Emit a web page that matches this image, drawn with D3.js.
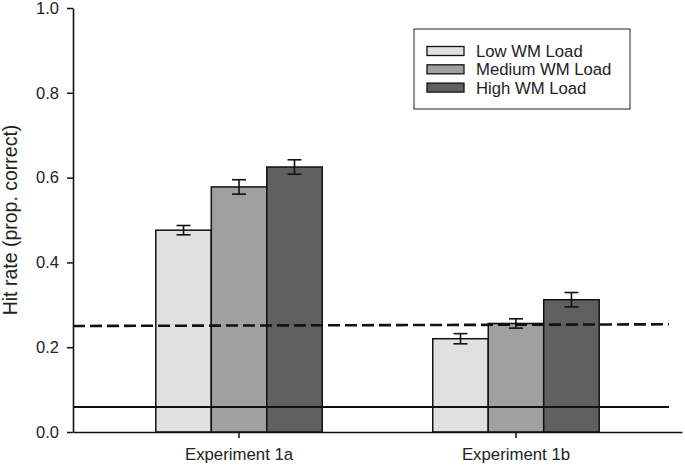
<!DOCTYPE html>
<html>
<head>
<meta charset="utf-8">
<script src="https://cdn.jsdelivr.net/npm/d3@7"></script>
<style>
  html, body { margin: 0; padding: 0; background: #fff; }
  svg { display: block; font-family: "Liberation Sans", Arial, sans-serif; }
</style>
</head>
<body>
<svg id="chart" width="685" height="466"></svg>
<script>
// ---- data ----
const categories = ["Experiment 1a", "Experiment 1b"];
const seriesNames = ["Low WM Load", "Medium WM Load", "High WM Load"];
const lowValues = [0.476, 0.220];
const mediumValues = [0.578, 0.256];
const highValues = [0.625, 0.312];
const lowErrors = [0.011, 0.012];
const mediumErrors = [0.017, 0.011];
const highErrors = [0.017, 0.017];
const yTicks = [0.0, 0.2, 0.4, 0.6, 0.8, 1.0];
const dashedLine = [0.250, 0.254];   // chance level (dashed)
const solidLine = [0.059, 0.059];    // baseline (solid)
const colors = ["#e0e0e0", "#a0a0a0", "#606060"];

const values = [lowValues, mediumValues, highValues];
const errors = [lowErrors, mediumErrors, highErrors];

// ---- layout ----
const svg = d3.select("#chart");
const margin = { left: 73, right: 3, top: 8, bottom: 34 };
const W = 685, H = 466;
const x0 = margin.left, x1 = W - margin.right;
const yTop = margin.top, yBot = H - margin.bottom;

const y = d3.scaleLinear().domain([0, 1]).range([yBot, yTop]);
const xGroup = d3.scaleBand().domain(categories).range([x0, x1])
  .paddingInner(0.399).paddingOuter(0.299);
const xSeries = d3.scaleBand().domain(d3.range(seriesNames.length))
  .range([0, xGroup.bandwidth()]).padding(0);

const fontSize = 16.5;

// bars
const barData = [];
categories.forEach((c, ci) => {
  seriesNames.forEach((s, si) => {
    barData.push({ c, si, v: values[si][ci], e: errors[si][ci] });
  });
});

const g = svg.append("g");

g.selectAll("rect.bar").data(barData).join("rect")
  .attr("class", "bar")
  .attr("x", d => xGroup(d.c) + xSeries(d.si))
  .attr("y", d => y(d.v))
  .attr("width", xSeries.bandwidth())
  .attr("height", d => y(0) - y(d.v))
  .attr("fill", d => colors[d.si])
  .attr("stroke", "#111")
  .attr("stroke-width", 1.5);

// error bars
const capW = 14;
const eb = g.selectAll("g.err").data(barData).join("g").attr("class", "err")
  .attr("stroke", "#111").attr("stroke-width", 1.6);
eb.append("line")
  .attr("x1", d => xGroup(d.c) + xSeries(d.si) + xSeries.bandwidth() / 2)
  .attr("x2", d => xGroup(d.c) + xSeries(d.si) + xSeries.bandwidth() / 2)
  .attr("y1", d => y(d.v + d.e)).attr("y2", d => y(d.v - d.e));
eb.append("line")
  .attr("x1", d => xGroup(d.c) + xSeries(d.si) + xSeries.bandwidth() / 2 - capW / 2)
  .attr("x2", d => xGroup(d.c) + xSeries(d.si) + xSeries.bandwidth() / 2 + capW / 2)
  .attr("y1", d => y(d.v + d.e)).attr("y2", d => y(d.v + d.e));
eb.append("line")
  .attr("x1", d => xGroup(d.c) + xSeries(d.si) + xSeries.bandwidth() / 2 - capW / 2)
  .attr("x2", d => xGroup(d.c) + xSeries(d.si) + xSeries.bandwidth() / 2 + capW / 2)
  .attr("y1", d => y(d.v - d.e)).attr("y2", d => y(d.v - d.e));

// reference lines
const lineX = d3.scaleLinear().domain([0, 1]).range([x0, 669]);
const lineGen = d3.line().x((d, i) => lineX(i)).y(d => y(d));
g.append("path").datum(solidLine)
  .attr("d", lineGen).attr("fill", "none")
  .attr("stroke", "#111").attr("stroke-width", 2);
g.append("path").datum(dashedLine)
  .attr("d", lineGen).attr("fill", "none")
  .attr("stroke", "#111").attr("stroke-width", 2.6)
  .attr("stroke-dasharray", "12,5");

// y axis
const yAxis = d3.axisLeft(y).tickValues(yTicks).tickFormat(d3.format(".1f"))
  .tickSizeInner(6).tickSizeOuter(0).tickPadding(8);
const gy = svg.append("g").attr("transform", `translate(${x0},0)`).call(yAxis);
gy.select(".domain").attr("stroke", "#111").attr("stroke-width", 1.6);
gy.selectAll(".tick line").attr("stroke", "#111").attr("stroke-width", 1.5);
gy.selectAll(".tick text").attr("font-size", fontSize).attr("fill", "#222")
  .attr("font-family", "'Liberation Sans', Arial, sans-serif");

// x axis
const xAxis = d3.axisBottom(xGroup).tickSizeInner(6).tickSizeOuter(0).tickPadding(10);
const gx = svg.append("g").attr("transform", `translate(0,${yBot})`).call(xAxis);
gx.select(".domain").attr("stroke", "#111").attr("stroke-width", 1.6);
gx.selectAll(".tick line").attr("stroke", "#111").attr("stroke-width", 1.5);
gx.selectAll(".tick text").attr("font-size", 16.8).attr("fill", "#222")
  .attr("font-family", "'Liberation Sans', Arial, sans-serif");

// y label
svg.append("text")
  .attr("transform", `translate(17,${(yTop + yBot) / 2}) rotate(-90)`)
  .attr("text-anchor", "middle")
  .attr("font-size", 19.5)
  .attr("fill", "#222")
  .text("Hit rate (prop. correct)");

// legend
const leg = svg.append("g").attr("transform", "translate(414,29)");
leg.append("rect").attr("width", 216).attr("height", 80)
  .attr("fill", "#fff").attr("stroke", "#222").attr("stroke-width", 1);
const rows = leg.selectAll("g.row").data(seriesNames).join("g").attr("class", "row")
  .attr("transform", (d, i) => `translate(13,${17.5 + i * 18.3})`);
rows.append("rect").attr("width", 37).attr("height", 9)
  .attr("fill", (d, i) => colors[i]).attr("stroke", "#111").attr("stroke-width", 1.3);
rows.append("text").attr("x", 49).attr("y", 10.5)
  .attr("font-size", 16.7).attr("fill", "#222")
  .text(d => d);
</script>
</body>
</html>
